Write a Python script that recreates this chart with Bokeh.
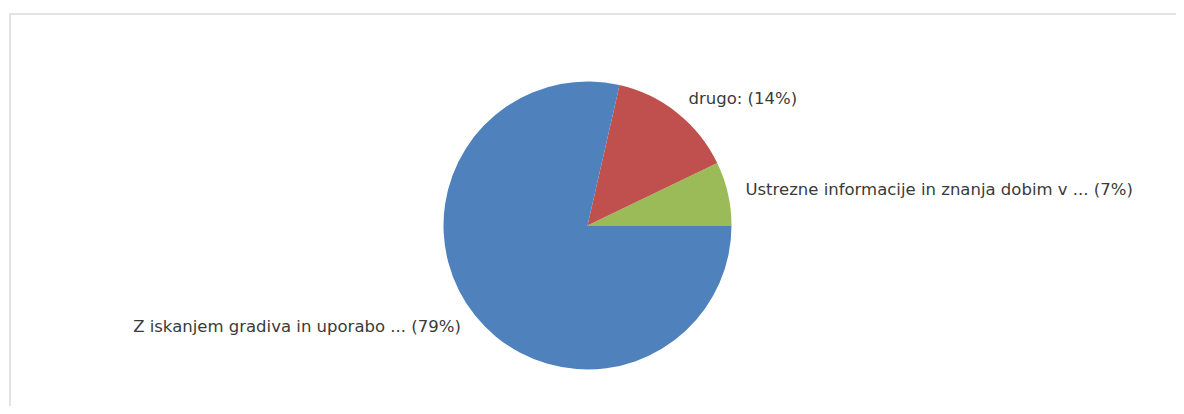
import math
from bokeh.plotting import figure
from bokeh.models import ColumnDataSource, Range1d
from bokeh.core.properties import value
from bokeh.embed import file_html
from bokeh.resources import INLINE

# Data (counterclockwise from 3 o'clock)
labels = ["Ustrezne informacije in znanja dobim v ...", "drugo:", "Z iskanjem gradiva in uporabo ..."]
counts = [2, 4, 22]
colors = ["#9BBB59", "#C0504D", "#4F81BD"]

W, H = 1176, 406
p = figure(width=W, height=H, output_backend="svg", toolbar_location=None,
           x_range=Range1d(0, W), y_range=Range1d(0, H), min_border=0)
p.axis.visible = False
p.grid.visible = False
p.outline_line_color = None
p.background_fill_color = "white"
p.border_fill_color = "white"

# light frame border (top and left)
p.line(x=[9.5, 9.5, W], y=[0, H - 13.5, H - 13.5], line_color="#E3E3E3", line_width=2)

cx, cy, r = 587, H - 225, 144
total = sum(counts)
starts, ends, pcts = [], [], []
acc = 0
for c in counts:
    starts.append(2 * math.pi * acc / total)
    acc += c
    ends.append(2 * math.pi * acc / total)
    pcts.append(round(100 * c / total))

src = ColumnDataSource(dict(start=starts, end=ends, color=colors,
                            x=[cx] * 3, y=[cy] * 3))
p.wedge(x="x", y="y", radius=r, start_angle="start", end_angle="end",
        fill_color="color", line_color=None, source=src)

rl = r * 1.125
tx, ty, ta, txt = [], [], [], []
for s, e, lab, pc in zip(starts, ends, labels, pcts):
    m = (s + e) / 2
    tx.append(cx + rl * math.cos(m))
    ty.append(cy + rl * math.sin(m))
    ta.append("left" if math.cos(m) >= 0 else "right")
    txt.append(f"{lab} ({pc}%)")
tsrc = ColumnDataSource(dict(x=tx, y=ty, align=ta, text=txt))
p.text(x="x", y="y", text="text", text_align="align", text_baseline="middle",
       text_font=value("DejaVu Sans"), text_font_size="16.5px", text_color="#3A3A3A",
       source=tsrc)

open("out.html", "w").write(file_html(p, INLINE))
